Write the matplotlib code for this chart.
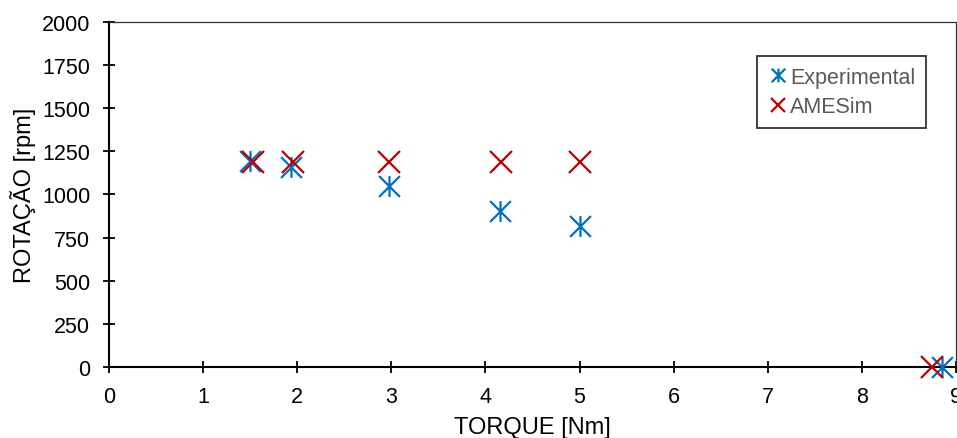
import matplotlib
matplotlib.use("Agg")
import matplotlib.pyplot as plt
from matplotlib.path import Path

plt.rcParams['font.family'] = ['Liberation Sans', 'DejaVu Sans']

exp_torque = [1.50, 1.93, 2.97, 4.15, 5.00, 8.85]
exp_rpm = [1196, 1162, 1048, 906, 820, 0]
ames_torque = [1.53, 1.95, 2.98, 4.16, 5.01, 8.75]
ames_rpm = [1190, 1190, 1190, 1190, 1190, 0]

x_ticks = list(range(0, 10))
y_ticks = list(range(0, 2001, 250))

asterisk = Path([(-1, -1), (1, 1), (-1, 1), (1, -1), (0, -1), (0, 1)],
                [Path.MOVETO, Path.LINETO, Path.MOVETO, Path.LINETO, Path.MOVETO, Path.LINETO])

fig = plt.figure(figsize=(9.57, 4.39), dpi=100)
ax = fig.add_axes([109/957, 1-368/439, (956-109)/957, (368-23)/439])

blue = '#0070C0'
red = '#C00000'
ax.plot(exp_torque, exp_rpm, linestyle='none', marker=asterisk, ms=15, mew=1.6,
        color=blue, label='Experimental', clip_on=False, zorder=3)
ax.plot(ames_torque, ames_rpm, linestyle='none', marker='x', ms=15.5, mew=1.6,
        color=red, label='AMESim', clip_on=False, zorder=3)

ax.set_xlim(0, 9)
ax.set_ylim(0, 2000)
ax.set_xticks(x_ticks)
ax.set_yticks(y_ticks)
ax.tick_params(direction='inout', length=9, width=1.3, labelsize=15.5, colors='black')
ax.tick_params(axis='y', pad=9)
ax.tick_params(axis='x', pad=9)

for s in ['left', 'bottom']:
    ax.spines[s].set_linewidth(1.5)
    ax.spines[s].set_color('black')
for s in ['top', 'right']:
    ax.spines[s].set_linewidth(0.9)
    ax.spines[s].set_color('#303030')

ax.set_xlabel('TORQUE [Nm]', fontsize=17, labelpad=7)
ax.set_ylabel('ROTAÇÃO [rpm]', fontsize=17, labelpad=4)

leg = ax.legend(loc='upper right', bbox_to_anchor=(926/957, 1-57/439),
                bbox_transform=fig.transFigure, frameon=True, fancybox=False,
                edgecolor='black', fontsize=15.5, markerscale=0.65, handlelength=0.9,
                handletextpad=0.12, borderpad=0.5, labelspacing=0.4, borderaxespad=0)
leg.get_frame().set_linewidth(1.3)
for t in leg.get_texts():
    t.set_color('#595959')

fig.savefig('out.png', dpi=100)
